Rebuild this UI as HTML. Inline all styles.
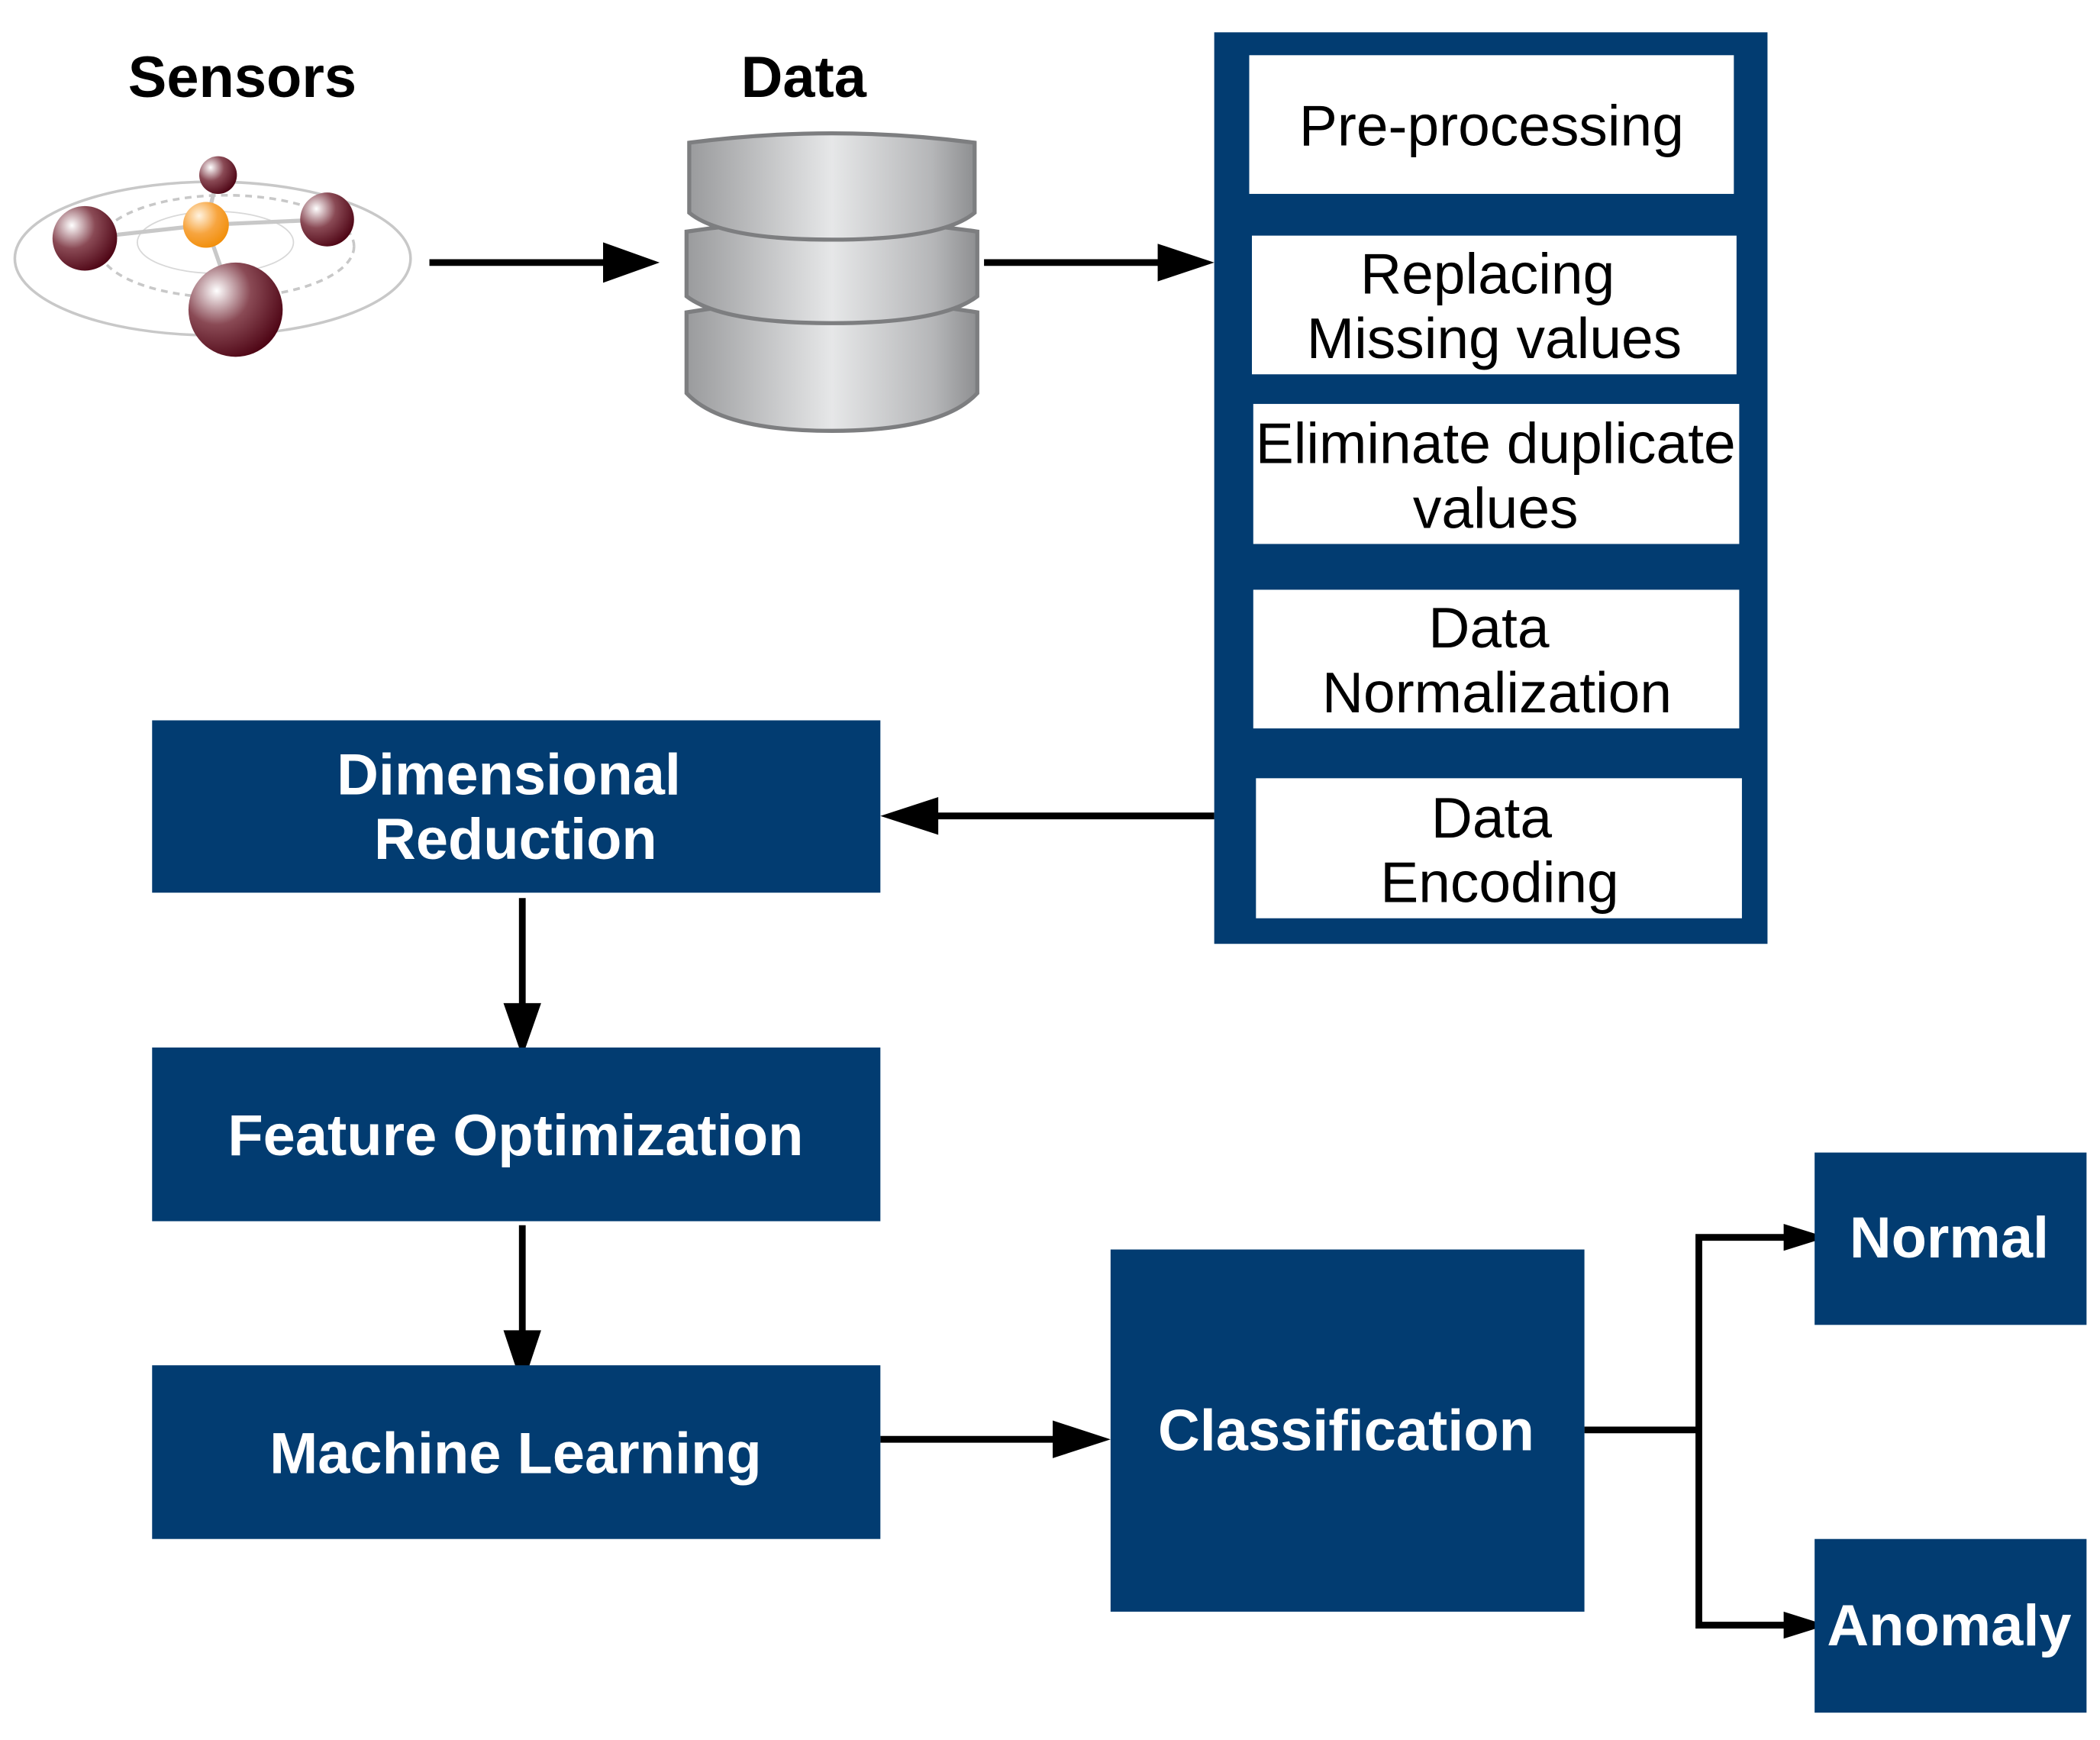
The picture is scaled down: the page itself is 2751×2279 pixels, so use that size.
<!DOCTYPE html>
<html><head><meta charset="utf-8"><style>
html,body{margin:0;padding:0;background:#fff;}
svg{display:block;}
text{font-family:"Liberation Sans",sans-serif;}
</style></head><body>
<svg width="2751" height="2279" viewBox="0 0 1560 1292.3" preserveAspectRatio="none" xmlns="http://www.w3.org/2000/svg">
<defs>
<linearGradient id="cyl" x1="0" x2="1" y1="0" y2="0">
<stop offset="0" stop-color="#9a9b9d"/><stop offset="0.5" stop-color="#e6e7e8"/><stop offset="0.85" stop-color="#b5b6b8"/><stop offset="1" stop-color="#8e8f91"/>
</linearGradient>
<radialGradient id="sph" cx="0.3" cy="0.3" r="0.8">
<stop offset="0" stop-color="#ffffff"/><stop offset="0.45" stop-color="#8a4a55"/><stop offset="1" stop-color="#4a0010"/>
</radialGradient>
<radialGradient id="org" cx="0.35" cy="0.3" r="0.8">
<stop offset="0" stop-color="#fff3e0"/><stop offset="0.5" stop-color="#f7a540"/><stop offset="1" stop-color="#f08a00"/>
</radialGradient>
</defs>
<text x="180" y="72" font-size="43" font-weight="bold" text-anchor="middle">Sensors</text>
<text x="597" y="72" font-size="43" font-weight="bold" text-anchor="middle">Data</text>
<!-- sensors icon -->
<ellipse cx="158" cy="192" rx="147" ry="57" fill="none" stroke="#c8c8c8" stroke-width="2"/>
<ellipse cx="168" cy="183" rx="95" ry="38" fill="none" stroke="#c8c8c8" stroke-width="2" stroke-dasharray="5,4"/>
<ellipse cx="160" cy="180" rx="58" ry="23" fill="none" stroke="#d8d8d8" stroke-width="1"/>
<g stroke="#c8c8c8" stroke-width="3">
<line x1="153" y1="167" x2="63" y2="177"/><line x1="153" y1="167" x2="243" y2="163"/>
<line x1="153" y1="167" x2="162" y2="130"/><line x1="153" y1="167" x2="175" y2="230"/>
</g>
<circle cx="162" cy="130" r="14" fill="url(#sph)"/>
<circle cx="63" cy="177" r="24" fill="url(#sph)"/>
<circle cx="243" cy="163" r="20" fill="url(#sph)"/>
<circle cx="153" cy="167" r="17" fill="url(#org)"/>
<circle cx="175" cy="230" r="35" fill="url(#sph)"/>
<!-- database -->
<g stroke="#7d7e80" stroke-width="3">
<path d="M510,232 Q618,214 726,232 L726,292 Q700,320 618,320 Q536,320 510,292 Z" fill="url(#cyl)"/>
<path d="M510,172 Q618,156 726,172 L726,220 Q700,240 618,240 Q536,240 510,220 Z" fill="url(#cyl)"/>
<path d="M512,106 Q618,92 724,106 L724,158 Q700,178 618,178 Q536,178 512,158 Z" fill="url(#cyl)"/>
</g>
<!-- arrows -->
<g stroke="#000" stroke-width="5" fill="none">
<line x1="319" y1="195" x2="455" y2="195"/>
<line x1="731" y1="195" x2="865" y2="195"/>
<line x1="902" y1="606" x2="690" y2="606"/>
<line x1="388" y1="667" x2="388" y2="752"/>
<line x1="388" y1="910" x2="388" y2="990"/>
<line x1="654" y1="1069" x2="788" y2="1069"/>
<polyline points="1177,1062 1262,1062"/>
<polyline points="1330,919 1262,919 1262,1207 1330,1207"/>
</g>
<g fill="#000">
<polygon points="448,180 490,195 448,210"/>
<polygon points="860,181 902,195 860,209"/>
<polygon points="697,592 654,606 697,620"/>
<polygon points="374,745 388,785 402,745"/>
<polygon points="374,988 388,1030 402,988"/>
<polygon points="782,1055 825,1069 782,1083"/>
<polygon points="1325,909 1357,919 1325,929"/>
<polygon points="1325,1197 1357,1207 1325,1217"/>
</g>
<!-- panel -->
<rect x="902" y="24" width="411" height="677" fill="#023c71"/>
<g fill="#fff">
<rect x="928" y="41" width="360" height="103"/>
<rect x="930" y="175" width="360" height="103"/>
<rect x="931" y="300" width="361" height="104"/>
<rect x="931" y="438" width="361" height="103"/>
<rect x="933" y="578" width="361" height="104"/>
</g>
<g font-size="42.5" text-anchor="middle" fill="#000">
<text x="1108" y="108">Pre-processing</text>
<text x="1105" y="218">Replacing</text>
<text x="1110" y="266">Missing values</text>
<text x="1111" y="344">Eliminate duplicate</text>
<text x="1111" y="392">values</text>
<text x="1106" y="481">Data</text>
<text x="1112" y="529">Normalization</text>
<text x="1108" y="622">Data</text>
<text x="1114" y="670">Encoding</text>
</g>
<!-- blue boxes -->
<g fill="#023c71">
<rect x="113" y="535" width="541" height="128"/>
<rect x="113" y="778" width="541" height="129"/>
<rect x="113" y="1014" width="541" height="129"/>
<rect x="825" y="928" width="352" height="269"/>
<rect x="1348" y="856" width="202" height="128"/>
<rect x="1348" y="1143" width="202" height="129"/>
</g>
<g font-size="43" font-weight="bold" text-anchor="middle" fill="#fff">
<text x="378" y="590">Dimensional</text>
<text x="383" y="638">Reduction</text>
<text x="383" y="858">Feature Optimization</text>
<text x="383" y="1094">Machine Learning</text>
<text x="1000" y="1077">Classification</text>
<text x="1448" y="934">Normal</text>
<text x="1448" y="1222">Anomaly</text>
</g>
</svg>
</body></html>
